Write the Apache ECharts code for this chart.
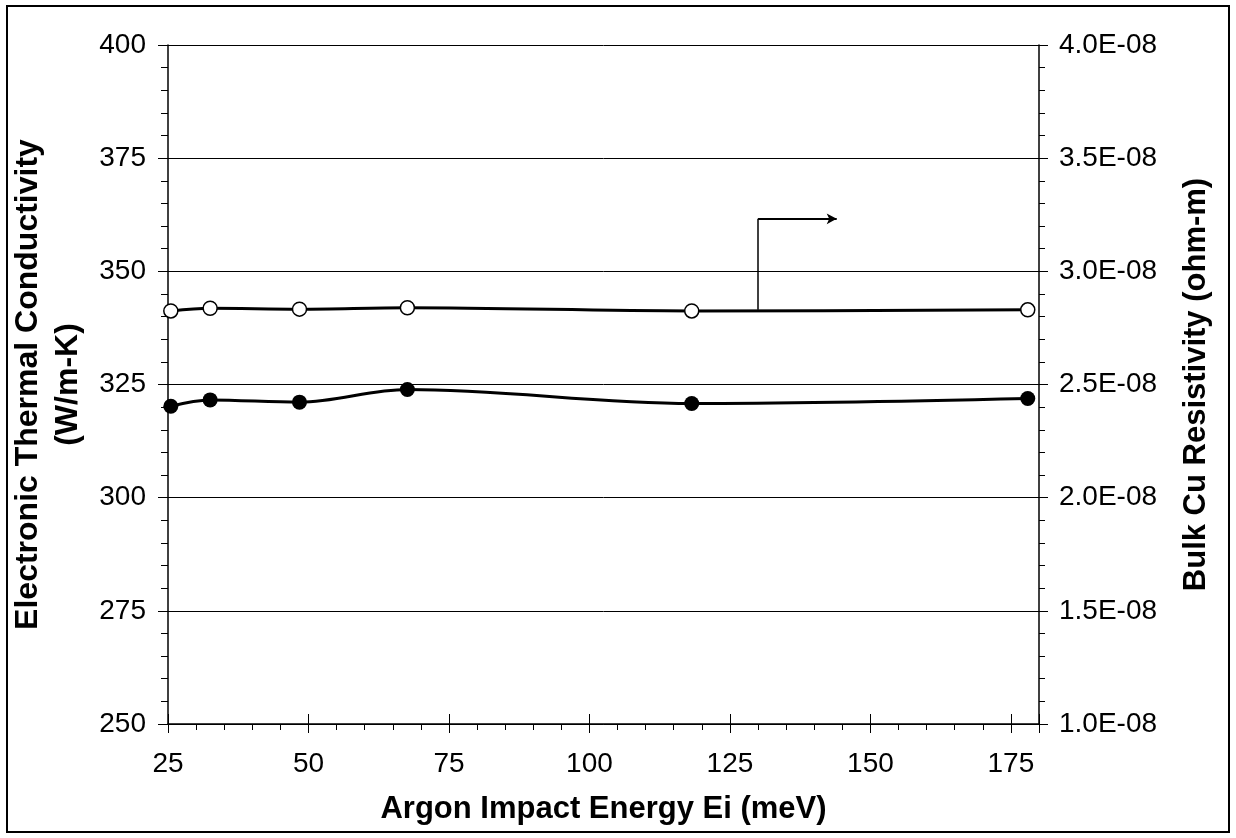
<!DOCTYPE html>
<html>
<head>
<meta charset="utf-8">
<script src="https://cdn.jsdelivr.net/npm/echarts@6/dist/echarts.min.js"></script>
<style>
  html, body { margin: 0; padding: 0; background: #fff; }
  #chart { width: 1236px; height: 838px; }
</style>
</head>
<body>
<div id="chart"></div>
<script>
// ---- data ----
const impactEnergy = [25.5, 32.5, 48.4, 67.6, 118.2, 178.0];           // meV
const thermalConductivity = [320.2, 321.6, 321.1, 323.9, 320.8, 321.9]; // W/m-K (left axis)
const resistivity = [2.825e-8, 2.837e-8, 2.833e-8, 2.839e-8, 2.825e-8, 2.830e-8]; // ohm-m (right axis)
const xTicks = [25, 50, 75, 100, 125, 150, 175];
const leftTicks = [250, 275, 300, 325, 350, 375, 400];
const rightTicks = ['1.0E-08', '1.5E-08', '2.0E-08', '2.5E-08', '3.0E-08', '3.5E-08', '4.0E-08'];
// annotation arrow (points to the right axis), in data units of x / right axis
const arrowX = [130, 130, 144];
const arrowY = [2.830e-8, 3.232e-8, 3.232e-8];

const FONT = 'Liberation Sans, Arial, sans-serif';
const BLACK = '#000';

const condData = impactEnergy.map((x, i) => [x, thermalConductivity[i]]);
const resData = impactEnergy.map((x, i) => [x, resistivity[i]]);

const chart = echarts.init(document.getElementById('chart'), null, { renderer: 'canvas' });

const xBase = { type: 'value', min: 25, max: 180, position: 'bottom', splitLine: { show: false } };

const option = {
  animation: false,
  backgroundColor: '#fff',
  textStyle: { fontFamily: FONT, color: BLACK },
  grid: { left: 168, right: 197, top: 45, bottom: 114, containLabel: false },
  graphic: [{
    type: 'rect', silent: true, z: 100,
    shape: { x: 7, y: 6, width: 1222, height: 826 },
    style: { fill: 'none', stroke: BLACK, lineWidth: 2 }
  }],
  xAxis: [
    Object.assign({}, xBase, {
      interval: 5,
      axisLine: { show: true, lineStyle: { color: BLACK, width: 1.5 } },
      axisTick: { show: true, length: 6, lineStyle: { color: BLACK, width: 1 } },
      axisLabel: { show: false },
      name: 'Argon Impact Energy Ei (meV)',
      nameLocation: 'middle',
      nameGap: 70,
      nameTextStyle: { fontFamily: FONT, fontSize: 31, fontWeight: 'bold', color: BLACK }
    }),
    Object.assign({}, xBase, {
      interval: 25,
      axisLine: { show: false },
      axisTick: { show: true, length: 9, lineStyle: { color: BLACK, width: 1 } },
      axisLabel: {
        show: true, margin: 26, fontSize: 28, fontFamily: FONT, color: BLACK,
        formatter: v => (xTicks.indexOf(Math.round(v)) >= 0 && Math.abs(v - Math.round(v)) < 1e-6) ? String(Math.round(v)) : ''
      }
    }),
    Object.assign({}, xBase, {
      interval: 25,
      axisLine: { show: false },
      axisTick: { show: true, inside: true, length: 10, lineStyle: { color: BLACK, width: 1 } },
      axisLabel: { show: false }
    })
  ],
  yAxis: [
    {
      type: 'value', min: 250, max: 400, interval: 25, position: 'left',
      axisLine: { show: true, lineStyle: { color: BLACK, width: 1.5 } },
      axisTick: { show: true, length: 10, lineStyle: { color: BLACK, width: 1 } },
      minorTick: { show: true, splitNumber: 5, length: 7, lineStyle: { color: BLACK, width: 1 } },
      splitLine: { show: true, lineStyle: { color: BLACK, width: 1 } },
      axisLabel: {
        margin: 22, fontSize: 28, fontFamily: FONT, color: BLACK,
        formatter: v => { const i = leftTicks.indexOf(Math.round(v)); return i >= 0 ? String(leftTicks[i]) : ''; }
      },
      name: 'Electronic Thermal Conductivity\n(W/m-K)',
      nameLocation: 'middle',
      nameRotate: 90,
      nameGap: 74,
      nameTextStyle: { fontFamily: FONT, fontSize: 32, fontWeight: 'bold', color: BLACK, lineHeight: 40, align: 'center' }
    },
    {
      type: 'value', min: 1e-8, max: 4e-8, interval: 0.5e-8, position: 'right',
      axisLine: { show: true, lineStyle: { color: BLACK, width: 1.5 } },
      axisTick: { show: true, length: 9, lineStyle: { color: BLACK, width: 1 } },
      minorTick: { show: true, splitNumber: 5, length: 6, lineStyle: { color: BLACK, width: 1 } },
      splitLine: { show: false },
      axisLabel: {
        margin: 20, fontSize: 28, fontFamily: FONT, color: BLACK,
        formatter: v => { const k = Math.round((v - 1e-8) / 0.5e-8); return (k >= 0 && k < rightTicks.length) ? rightTicks[k] : ''; }
      },
      name: 'Bulk Cu Resistivity (ohm-m)',
      nameLocation: 'middle',
      nameRotate: 90,
      nameGap: 142,
      nameTextStyle: { fontFamily: FONT, fontSize: 31, fontWeight: 'bold', color: BLACK }
    }
  ],
  series: [
    {
      name: 'Electronic Thermal Conductivity',
      type: 'line', xAxisIndex: 0, yAxisIndex: 0,
      data: condData, smooth: 0.35,
      symbol: 'circle', symbolSize: 15,
      lineStyle: { color: BLACK, width: 3 },
      itemStyle: { color: BLACK, borderColor: BLACK, borderWidth: 0 },
      z: 3
    },
    {
      name: 'Bulk Cu Resistivity',
      type: 'line', xAxisIndex: 0, yAxisIndex: 1,
      data: resData, smooth: 0.35,
      symbol: 'circle', symbolSize: 14,
      showAllSymbol: true,
      lineStyle: { color: BLACK, width: 3 },
      itemStyle: { color: '#fff', borderColor: BLACK, borderWidth: 1.5 },
      z: 3,
      markLine: {
        silent: true, animation: false,
        symbol: ['none', 'none'],
        label: { show: false },
        lineStyle: { color: BLACK, width: 1.5, type: 'solid' },
        emphasis: { disabled: true },
        data: [
          [{ coord: [arrowX[0], arrowY[0]] }, { coord: [arrowX[1], arrowY[1]] }],
          [{ coord: [arrowX[1], arrowY[1]], symbol: 'none' },
           { coord: [arrowX[2], arrowY[2]], symbol: 'arrow', symbolSize: [8, 10], lineStyle: { width: 2 } }]
        ]
      }
    }
  ]
};

chart.setOption(option);
</script>
</body>
</html>
